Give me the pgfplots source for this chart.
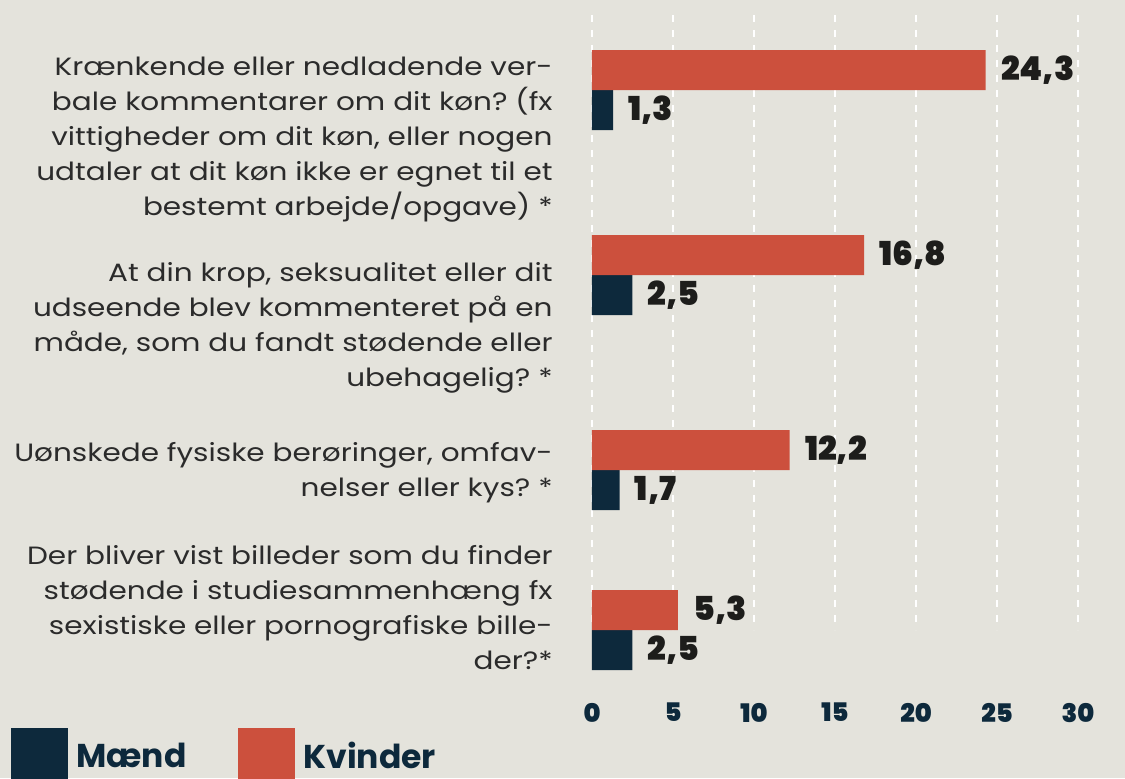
\documentclass[border=0pt]{standalone}
\usepackage{pgfplots}
\pgfplotsset{compat=1.18}
\usepackage{fontspec}
\setmainfont{Poppins}
\newfontfamily\labelfont{Poppins}[FakeStretch=1.18]
\newfontfamily\heavy{Poppins Black}
\definecolor{bg}{HTML}{E4E3DC}
\definecolor{kred}{HTML}{CC503D}
\definecolor{navy}{HTML}{0D293C}
\definecolor{txt}{HTML}{2B2B2B}
\definecolor{val}{HTML}{1D1D1B}
\frenchspacing
\begin{document}
\begin{tikzpicture}
\clip (0,0) rectangle (562.5pt,389pt);
\fill[bg] (0,0) rectangle (562.5pt,389pt);
\begin{axis}[
  at={(296pt,74pt)}, anchor=south west,
  scale only axis, width=243pt, height=307.5pt,
  xbar, bar width=0.4,
  xmin=0, xmax=30, ymin=0.15, ymax=6.30, y dir=reverse,
  clip=false,
  axis line style={draw=none},
  major tick length=0pt,
  xtick={0,5,...,30},
  xmajorgrids,
  grid style={white, line width=1pt, dash pattern=on 3.5pt off 4pt},
  ytick={1.40,3.275,4.725,6.075},
  yticklabels={
    {Krænkende eller nedladende ver-\\bale kommentarer om dit køn? (fx\\vittigheder om dit køn, eller nogen\\udtaler at dit køn ikke er egnet til et\\bestemt arbejde/opgave) *},
    {At din krop, seksualitet eller dit\\udseende blev kommenteret på en\\måde, som du fandt stødende eller\\ubehagelig? *},
    {Uønskede fysiske berøringer, omfav-\\nelser eller kys? *},
    {Der bliver vist billeder som du finder\\stødende i studiesammenhæng fx\\sexistiske eller pornografiske bille-\\der?*}},
  yticklabel style={align=right, anchor=east, inner sep=0pt, xshift=-19.5pt,
    font=\labelfont\fontsize{12.5}{17.5}\selectfont, text=txt},
  xticklabel style={font=\heavy\fontsize{12.8}{14}\selectfont, text=navy, yshift=-33pt},
  /pgf/number format/assume math mode=true,
  nodes near coords={\pgfmathprintnumber[fixed, fixed zerofill, precision=1, use comma, assume math mode=true]{\pgfplotspointmeta}},
  every node near coord/.append style={anchor=west, inner sep=0pt, xshift=7.5pt,
    font=\heavy\fontsize{16.5}{18}\selectfont, text=val},
  legend image code/.code={\fill[#1] (0pt,-14.25pt) rectangle (28.5pt,14.25pt);},
  legend columns=2,
  legend style={at={(axis description cs:-1.195,-0.1595)}, anchor=north west,
    draw=none, fill=none, inner sep=0pt, outer sep=0pt,
    font=\bfseries\fontsize{16.5}{18}\selectfont, text=navy,
    nodes={inner sep=4pt},
    /tikz/every even column/.append style={column sep=22pt}},
]
\addplot[fill=navy, draw=none, bar shift=0.2] coordinates {(1.3,0.90) (2.5,2.75) (1.7,4.70) (2.5,6.30)};
\addlegendentry{Mænd}
\addplot[fill=kred, draw=none, bar shift=-0.2] coordinates {(24.3,0.90) (16.8,2.75) (12.2,4.70) (5.3,6.30)};
\addlegendentry{Kvinder}
\end{axis}
\end{tikzpicture}
\end{document}
